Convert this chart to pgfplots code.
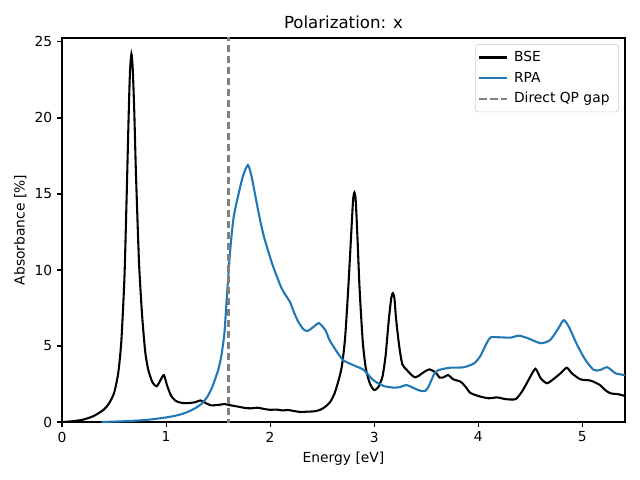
\documentclass[border=0pt]{standalone}
\usepackage{pgfplots}
\pgfplotsset{compat=1.18}
\usepackage{fontspec}
\setmainfont{DejaVu Sans}
\definecolor{mplblue}{HTML}{1F77B4}
\begin{document}
\begin{tikzpicture}
\useasboundingbox (-44.64bp,-41.76bp) rectangle (416.16bp,303.84bp);
\begin{axis}[
  at={(0,0)}, anchor=origin,
  scale only axis, width=405.36bp, height=276.48bp,
  xmin=0, xmax=5.41, ymin=0, ymax=25.26,
  xtick={0,1,2,3,4,5}, ytick={0,5,10,15,20,25},
  tick pos=left, tick align=outside,
  major tick length=3.5pt,
  every tick/.style={black, line width=0.8pt},
  axis line style={line width=0.8pt},
  /pgf/number format/assume math mode=true,
  tick label style={font=\fontsize{10}{12}\selectfont},
  label style={font=\fontsize{10}{12}\selectfont},
  title style={font=\fontsize{12}{14}\selectfont, yshift=-3pt},
  title={Polarization: x},
  xlabel={Energy [eV]},
  ylabel={Absorbance [\%]},
  xlabel style={yshift=0pt},
  ylabel style={yshift=-1pt},
  legend style={at={(0.989,0.984)}, anchor=north east, draw=black!20, rounded corners=2pt,
    font=\fontsize{10}{12}\selectfont, row sep=2pt, inner xsep=2pt, inner ysep=3pt,
    nodes={inner xsep=4.5pt}},
  legend cell align=left,
  legend image code/.code={\draw[#1, line width=1.5pt] (0pt,0pt) -- (20pt,0pt);},
]
\addplot[black, line width=1.5pt, smooth, tension=0.4] coordinates {
(0,0.0) (0.1,0.05) (0.2,0.15) (0.3,0.38) (0.4,0.8) (0.45,1.2) (0.5,1.9) (0.54,3.2) (0.57,5.3) (0.6,9.5) (0.62,14.5) (0.64,20) (0.653,23.0) (0.667,24.2) (0.68,23.2) (0.695,20.3) (0.71,16.5) (0.74,10.5) (0.77,7.0) (0.8,4.6) (0.83,3.4) (0.87,2.6) (0.91,2.35) (0.95,2.8) (0.98,3.08) (1.01,2.4) (1.05,1.7) (1.1,1.36) (1.16,1.25) (1.22,1.25) (1.28,1.3) (1.33,1.42) (1.38,1.25) (1.43,1.1) (1.5,1.12) (1.56,1.18) (1.62,1.1) (1.7,1.0) (1.76,0.92) (1.82,0.9) (1.88,0.94) (1.94,0.86) (2.0,0.8) (2.06,0.82) (2.12,0.76) (2.17,0.79) (2.23,0.72) (2.29,0.66) (2.36,0.68) (2.42,0.7) (2.48,0.8) (2.53,1.0) (2.58,1.35) (2.62,1.9) (2.66,2.8) (2.69,3.7) (2.72,5.5) (2.75,8.7) (2.78,12.5) (2.797,14.6) (2.81,15.1) (2.823,14.5) (2.84,12) (2.86,8.7) (2.89,5.3) (2.92,3.5) (2.96,2.5) (3.0,2.1) (3.04,2.3) (3.08,3.0) (3.11,4.4) (3.14,6.7) (3.165,8.2) (3.18,8.47) (3.195,8.1) (3.21,6.8) (3.24,5.0) (3.27,3.8) (3.31,3.45) (3.35,3.15) (3.39,2.94) (3.43,3.05) (3.47,3.25) (3.53,3.46) (3.59,3.25) (3.63,2.92) (3.67,2.95) (3.71,3.09) (3.76,2.81) (3.83,2.65) (3.88,2.3) (3.92,1.93) (3.97,1.78) (4.02,1.67) (4.10,1.56) (4.18,1.62) (4.23,1.55) (4.28,1.49) (4.36,1.51) (4.42,2.0) (4.47,2.6) (4.5,2.98) (4.55,3.5) (4.6,2.87) (4.66,2.55) (4.72,2.81) (4.79,3.2) (4.85,3.57) (4.9,3.2) (4.98,2.81) (5.08,2.72) (5.17,2.43) (5.22,2.1) (5.27,1.89) (5.35,1.82) (5.41,1.71)
};
\addlegendentry{BSE}
\addplot[mplblue, line width=1.5pt, smooth, tension=0.4] coordinates {
(0.38,0.0) (0.6,0.05) (0.8,0.13) (0.95,0.25) (1.06,0.37) (1.15,0.52) (1.22,0.7) (1.29,0.95) (1.35,1.25) (1.40,1.7) (1.44,2.24) (1.47,2.8) (1.50,3.4) (1.53,4.3) (1.56,5.8) (1.58,7.8) (1.6,9.8) (1.62,11.6) (1.65,13.5) (1.70,15.1) (1.74,16.2) (1.786,16.9) (1.82,16.2) (1.86,14.8) (1.9,13.4) (1.94,12.2) (2.02,10.4) (2.11,8.8) (2.19,7.9) (2.23,7.2) (2.27,6.6) (2.32,6.1) (2.36,5.99) (2.42,6.27) (2.47,6.5) (2.53,6.05) (2.57,5.4) (2.61,4.95) (2.70,4.08) (2.82,3.68) (2.9,3.42) (2.99,2.76) (3.09,2.37) (3.19,2.26) (3.25,2.3) (3.31,2.43) (3.39,2.2) (3.44,2.06) (3.49,2.04) (3.52,2.3) (3.55,2.76) (3.58,3.2) (3.62,3.42) (3.73,3.57) (3.86,3.6) (3.96,3.86) (4.02,4.34) (4.08,5.18) (4.12,5.57) (4.21,5.57) (4.31,5.55) (4.39,5.68) (4.48,5.5) (4.6,5.18) (4.69,5.39) (4.77,6.16) (4.82,6.7) (4.87,6.27) (4.95,5.07) (5.03,4.08) (5.11,3.42) (5.17,3.42) (5.24,3.6) (5.32,3.2) (5.41,3.09)
};
\addlegendentry{RPA}
\addplot[gray, line width=1.5pt, dash pattern=on 5.55pt off 2.4pt] coordinates {(1.6,-1) (1.6,30)};
\addlegendentry{Direct QP gap}
\end{axis}
\end{tikzpicture}
\end{document}
